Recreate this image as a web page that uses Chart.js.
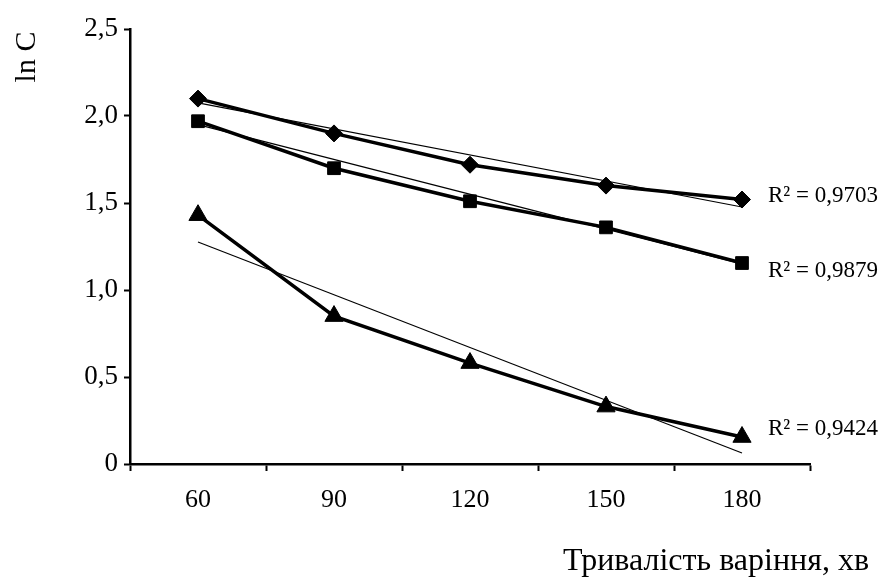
<!DOCTYPE html>
<html><head><meta charset="utf-8">
<script src="https://cdn.jsdelivr.net/npm/chart.js@4.4.0/dist/chart.umd.min.js"></script>
<style>html,body{margin:0;padding:0;background:#fff;}#wrap{width:885px;height:581px;position:relative;}</style>
</head><body><div id="wrap"><canvas id="c" width="885" height="581"></canvas></div>
<script>
// ---- data ----
const categories = ['60', '90', '120', '150', '180'];
const seriesDiamond = [2.10, 1.90, 1.72, 1.60, 1.52];
const seriesSquare = [1.97, 1.70, 1.51, 1.36, 1.155];
const seriesTriangle = [1.43, 0.85, 0.58, 0.33, 0.155];
// fitted (trend) lines: value at first and last category
const trendDiamond = [2.075, 1.477];
const trendSquare = [1.95, 1.15];
const trendTriangle = [1.276, 0.063];
const r2Labels = ['R² = 0,9703', 'R² = 0,9879', 'R² = 0,9424'];
const yTickLabels = ['0', '0,5', '1,0', '1,5', '2,0', '2,5'];
const yTitle = 'ln C';
const xTitle = 'Тривалість варіння, хв';

const SERIF = "'Liberation Serif', 'Times New Roman', serif";

function trendData(arr) {
  return [{x: categories[0], y: arr[0]}, {x: categories[categories.length - 1], y: arr[1]}];
}
function mainSet(data, style, radius) {
  return {
    data: data, borderColor: '#000', backgroundColor: '#000', borderWidth: 3.5,
    pointStyle: style, pointRadius: radius, pointBackgroundColor: '#000',
    pointBorderColor: '#000', pointBorderWidth: 1, tension: 0
  };
}
function trendSet(arr) {
  return {data: trendData(arr), borderColor: '#000', borderWidth: 1.2, pointRadius: 0, tension: 0};
}

const textPlugin = {
  id: 'texts',
  afterDraw(chart) {
    const c = chart.ctx;
    const xs = chart.scales.x, ys = chart.scales.y;
    c.save();
    c.fillStyle = '#000';
    // R² labels next to the last point of each series
    c.font = '23px ' + SERIF;
    c.textAlign = 'left';
    c.textBaseline = 'middle';
    const lastIdx = categories.length - 1;
    const lx = xs.getPixelForValue(lastIdx) + 26;
    const offs = [-4, 8, -8];
    [seriesDiamond, seriesSquare, seriesTriangle].forEach((s, i) => {
      c.fillText(r2Labels[i], lx, ys.getPixelForValue(s[lastIdx]) + offs[i]);
    });
    // y axis title (rotated)
    c.font = '30px ' + SERIF;
    c.save();
    c.translate(27, chart.chartArea.top + 28);
    c.rotate(-Math.PI / 2);
    c.textAlign = 'center';
    c.textBaseline = 'middle';
    c.fillText(yTitle, 0, 0);
    c.restore();
    // x axis title
    c.font = '32px ' + SERIF;
    c.textAlign = 'right';
    c.textBaseline = 'alphabetic';
    c.fillText(xTitle, 869, 570);
    c.restore();
  }
};

new Chart(document.getElementById('c'), {
  type: 'line',
  data: {
    labels: categories,
    datasets: [
      mainSet(seriesDiamond, 'rectRot', 8.5),
      mainSet(seriesSquare, 'rect', 9),
      mainSet(seriesTriangle, 'triangle', 10.5),
      trendSet(trendDiamond),
      trendSet(trendSquare),
      trendSet(trendTriangle)
    ]
  },
  options: {
    animation: false, responsive: false, devicePixelRatio: 1,
    layout: {padding: {left: 0, right: 75, top: 29, bottom: 0}},
    plugins: {legend: {display: false}, tooltip: {enabled: false}, title: {display: false}},
    scales: {
      x: {
        type: 'category', offset: true,
        grid: {offset: true, drawOnChartArea: false, drawTicks: true, tickLength: 7, tickWidth: 2, tickColor: '#000'},
        border: {display: true, color: '#000', width: 2.5},
        ticks: {font: {family: SERIF, size: 26}, color: '#000', padding: 14, maxRotation: 0, autoSkip: false},
        afterFit(s) { s.height = 581 - 464; }
      },
      y: {
        min: 0, max: 2.5,
        grid: {drawOnChartArea: false, drawTicks: true, tickLength: 6, tickWidth: 2, tickColor: '#000'},
        border: {display: true, color: '#000', width: 2.5},
        ticks: {stepSize: 0.5, font: {family: SERIF, size: 27}, color: '#000', padding: 6,
          callback: (v, i) => yTickLabels[i]},
        afterFit(s) { s.width = 130; }
      }
    }
  },
  plugins: [textPlugin]
});
</script>
</body></html>
